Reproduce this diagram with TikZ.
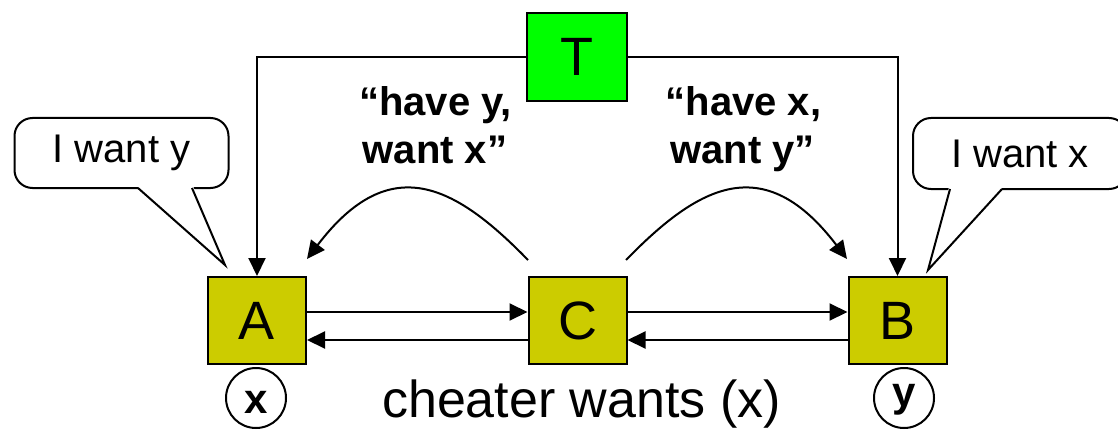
\documentclass[tikz,border=0pt]{standalone}
\usepackage{fontspec}
\setmainfont{Liberation Sans}
\usetikzlibrary{arrows.meta,calc}
\definecolor{boxy}{RGB}{204,204,0}
\definecolor{tgreen}{RGB}{0,255,0}
\begin{document}
\begin{tikzpicture}[x=1pt,y=-1pt,
  box/.style={draw,line width=2pt,minimum width=98pt,minimum height=87pt,inner sep=0pt,font=\fontsize{54}{60}\selectfont},
  conn/.style={line width=2pt,-{Triangle[length=18pt,width=17pt]}},
  bubble/.style={draw,line width=2pt,fill=white,rounded corners=18pt,minimum width=214pt,minimum height=70pt,inner sep=0pt,font=\fontsize{40}{44}\selectfont},
  lab/.style={anchor=base,inner sep=0pt,font=\bfseries\fontsize{40}{47}\selectfont},
  tok/.style={circle,draw,line width=2pt,minimum size=60pt,inner sep=0pt},
  tokl/.style={inner sep=0pt,font=\bfseries\fontsize{42}{46}\selectfont},
  tail/.style={line width=2pt,line join=miter}
]
\useasboundingbox (0,0) rectangle (1118,433);
% boxes
\node[box,fill=boxy] (A) at (257,320.5) {A};
\node[box,fill=boxy] (C) at (577.5,320.5) {C};
\node[box,fill=boxy] (B) at (897.5,320.5) {B};
\node[box,fill=tgreen,minimum width=100pt,minimum height=88pt] (T) at (577,57) {T};
% tokens
\node[tok,label={[tokl,yshift=-4pt]center:x}] (tx) at (256,398) {};
\node[tok,label={[tokl,yshift=-2pt]center:y}] (ty) at (904,398) {};
% caption
\node[anchor=base,inner sep=0pt,font=\fontsize{52}{58}\selectfont] (cap) at (581.5,417) {cheater wants (x)};
% labels
\node[lab] (l1a) at (435.5,116) {“have y,};
\node[lab] (l1b) at (435,163) {want x”};
\node[lab] (l2a) at (743.5,116) {“have x,};
\node[lab] (l2b) at (742.5,163) {want y”};
% bubbles
\node[bubble] (bubA) at (121.5,153) {I want y};
\node[bubble,minimum height=71pt] (bubB) at (1020,153.5) {I want x};
\coordinate (tA) at (225,265);
\coordinate (tB) at (928,270);
\fill[white] (137,186) -- (193,186) -- (tA) -- cycle;
\draw[tail] (138,188) -- (tA) -- (192,188);
\fill[white] (949,187) -- (1003,187) -- (tB) -- cycle;
\draw[tail] (950,189) -- (tB) -- (1002,189);
% horizontal connectors
\draw[conn] ($(A.east)+(0,-8.5)$) -- ($(C.west)+(0,-8.5)$);
\draw[conn] ($(C.west)+(0,19.5)$) -- ($(A.east)+(0,19.5)$);
\draw[conn] ($(C.east)+(0,-8.5)$) -- ($(B.west)+(0,-8.5)$);
\draw[conn] ($(B.west)+(0,19.5)$) -- ($(C.east)+(0,19.5)$);
% T connectors
\draw[conn] (T.west) -| (A.north);
\draw[conn] (T.east) -| (B.north);
% curved connectors
\coordinate (cl) at (528,260);
\coordinate (al) at (307,259);
\coordinate (cr) at (626,260);
\coordinate (br) at (847,259);
\draw[conn] (cl) .. controls (455,185) and (390,150) .. (al);
\draw[conn] (cr) .. controls (699,185) and (764,150) .. (br);
\end{tikzpicture}
\end{document}
